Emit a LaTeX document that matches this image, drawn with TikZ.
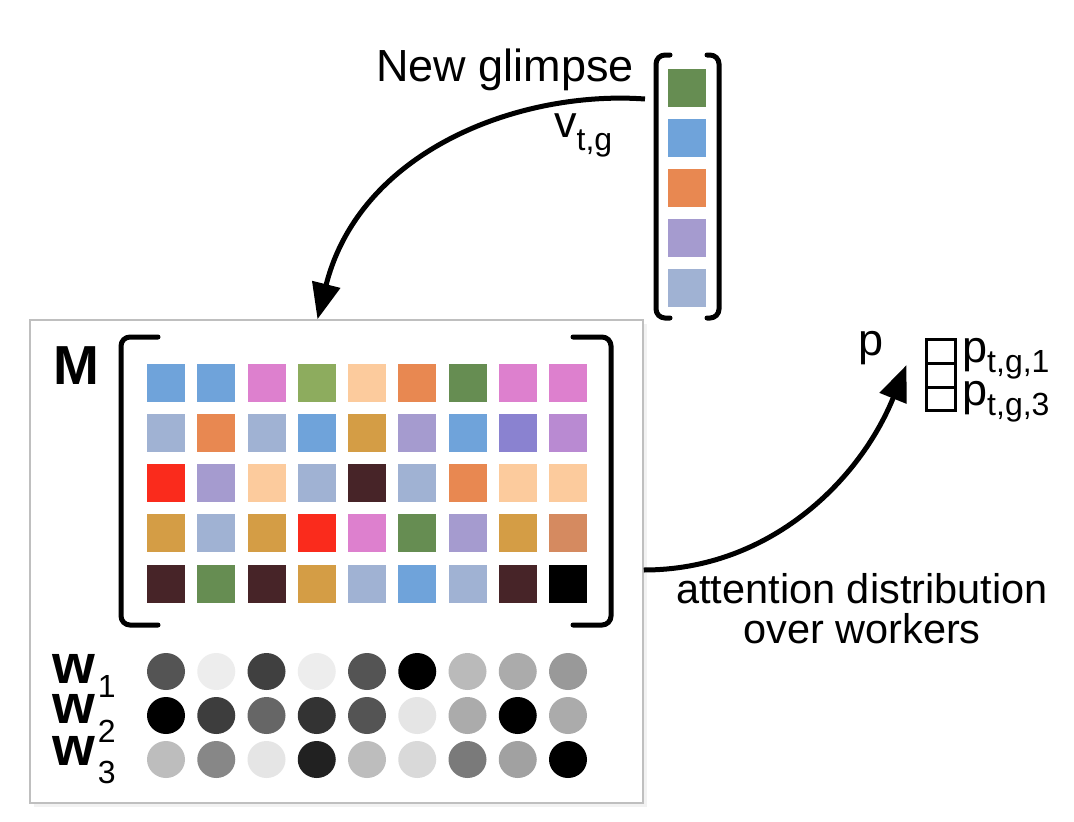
\documentclass[tikz,border=0pt]{standalone}
\usepackage{fontspec}
\setmainfont{Liberation Sans}
\usetikzlibrary{arrows.meta}

\definecolor{mblue}{HTML}{6FA3DA}
\definecolor{mpink}{HTML}{DD80CE}
\definecolor{mlime}{HTML}{8DAC5E}
\definecolor{mpeach}{HTML}{FCCB9D}
\definecolor{morange}{HTML}{E88851}
\definecolor{mgreen}{HTML}{668D52}
\definecolor{mslate}{HTML}{A0B2D3}
\definecolor{mmustard}{HTML}{D49D45}
\definecolor{mpurple}{HTML}{A59BCF}
\definecolor{mviolet}{HTML}{8A82D0}
\definecolor{mlilac}{HTML}{B98AD2}
\definecolor{mred}{HTML}{FA2B1C}
\definecolor{mbrown}{HTML}{472428}
\definecolor{mclay}{HTML}{D58A60}

\newcommand\labelstyle{\fontsize{45}{45}\selectfont}
\newcommand\lowstyle{\fontsize{32}{32}\selectfont}
\newcommand\boldlabelstyle{\fontsize{55}{55}\selectfont\bfseries}
\newcommand\lowtext[2]{\raisebox{#1}{\lowstyle #2}}
\newcommand\cellsize{38}
\newcommand\cellstep{50.25}
\newcommand\startrow[1]{\pgfmathparse{147}\let\x\pgfmathresult\def\rowy{#1}}
\newcommand\memcell[1]{
  \fill[#1] (\x, \rowy) rectangle ++ (\cellsize, \cellsize) ;
  \pgfmathparse{\x + \cellstep}\let\x\pgfmathresult
}
\newcommand\workerdot[1]{
  \fill[black!#1] (\x + 19, \rowy) ellipse [x radius=19, y radius=18.5] ;
  \pgfmathparse{\x + \cellstep}\let\x\pgfmathresult
}
\newcommand\startglimpse{\pgfmathparse{69}\let\y\pgfmathresult}
\newcommand\glimpsecell[1]{
  \fill[#1] (668, \y) rectangle ++ (\cellsize, \cellsize) ;
  \pgfmathparse{\y + 50}\let\y\pgfmathresult
}

\begin{document}
\begin{tikzpicture}[x=1pt, y=-1pt,
    bracket/.style={line width=5, rounded corners=9, line cap=round},
    bend arrow/.style={line width=5, -{Triangle[length=36pt, width=28pt]}}]
    \useasboundingbox (0,0) rectangle (1074,822) ;
    % memory panel
    \fill[black!5] (34,324) rectangle (647,807) ;
    \node (memory) [draw=black!25, line width=1.5, fill=white, minimum width=613, minimum height=483, inner sep=0] at (336.5,561.5) {} ;
    % new glimpse
    \draw (670,55)[bracket] -- (656,55) -- (656,318) -- (670,318) ;
    \draw (707,55)[bracket] -- (719,55) -- (719,318) -- (707,318) ;
    \startglimpse
    \glimpsecell{mgreen}
    \glimpsecell{mblue}
    \glimpsecell{morange}
    \glimpsecell{mpurple}
    \glimpsecell{mslate}
    \node (newglimpse) [anchor=base west, inner sep=0] at (376,81) {\labelstyle New glimpse} ;
    \node (vtg) [anchor=base west, inner sep=0] at (554,137) {\labelstyle v\lowtext{-13pt}{t,g}} ;
    \coordinate (glimpse) at (645,99) ;
    \draw[bend arrow] (glimpse) .. controls (520,90) and (360,150) .. ([xshift=-19]memory.north) ;
    % memory matrix
    \draw (158,337)[bracket] -- (121,337) -- (121,625) -- (158,625) ;
    \draw (573,337)[bracket] -- (611,337) -- (611,625) -- (573,625) ;
    \node (mlabel) [anchor=base west, inner sep=0] at (53,384) {\boldlabelstyle M} ;
    \startrow{363.5}
    \memcell{mblue} \memcell{mblue} \memcell{mpink} \memcell{mlime} \memcell{mpeach}
    \memcell{morange} \memcell{mgreen} \memcell{mpink} \memcell{mpink}
    \startrow{413.75}
    \memcell{mslate} \memcell{morange} \memcell{mslate} \memcell{mblue} \memcell{mmustard}
    \memcell{mpurple} \memcell{mblue} \memcell{mviolet} \memcell{mlilac}
    \startrow{464}
    \memcell{mred} \memcell{mpurple} \memcell{mpeach} \memcell{mslate} \memcell{mbrown}
    \memcell{mslate} \memcell{morange} \memcell{mpeach} \memcell{mpeach}
    \startrow{514.25}
    \memcell{mmustard} \memcell{mslate} \memcell{mmustard} \memcell{mred} \memcell{mpink}
    \memcell{mgreen} \memcell{mpurple} \memcell{mmustard} \memcell{mclay}
    \startrow{564.5}
    \memcell{mbrown} \memcell{mgreen} \memcell{mbrown} \memcell{mmustard} \memcell{mslate}
    \memcell{mblue} \memcell{mslate} \memcell{mbrown} \memcell{black}
    % workers
    \node (wone) [anchor=base west, inner sep=0] at (52,683) {\boldlabelstyle w\hspace{3pt}\lowtext{-14pt}{\mdseries 1}} ;
    \node (wtwo) [anchor=base west, inner sep=0] at (52,723) {\boldlabelstyle w\hspace{3pt}\lowtext{-19pt}{\mdseries 2}} ;
    \node (wthree) [anchor=base west, inner sep=0] at (52,765) {\boldlabelstyle w\hspace{3pt}\lowtext{-18pt}{\mdseries 3}} ;
    \startrow{671.5}
    \workerdot{67} \workerdot{7} \workerdot{75} \workerdot{7} \workerdot{67}
    \workerdot{100} \workerdot{27} \workerdot{33} \workerdot{40}
    \startrow{715.5}
    \workerdot{100} \workerdot{76} \workerdot{60} \workerdot{80} \workerdot{67}
    \workerdot{10} \workerdot{33} \workerdot{100} \workerdot{33}
    \startrow{759.5}
    \workerdot{26} \workerdot{47} \workerdot{10} \workerdot{87} \workerdot{26}
    \workerdot{15} \workerdot{52} \workerdot{37} \workerdot{100}
    % attention distribution
    \node (pvec) [draw, line width=3, minimum width=29, minimum height=71, inner sep=0] at (941,375) {} ;
    \draw[line width=3] (925,363) -- (957,363) ;
    \draw[line width=3] (925,387) -- (957,387) ;
    \node (plabel) [anchor=base west, inner sep=0] at (858,355) {\labelstyle p} ;
    \node (ptgone) [anchor=base west, inner sep=0] at (962,362) {\labelstyle p\lowtext{-10pt}{t,g,1}} ;
    \node (ptgthree) [anchor=base west, inner sep=0] at (962,405) {\labelstyle p\lowtext{-10pt}{t,g,3}} ;
    \coordinate (memout) at ([yshift=-8.5]memory.east) ;
    \draw[bend arrow] (memout) .. controls (770,570) and (860,480) .. ([xshift=-18.5, yshift=10]pvec.west) ;
    \node (attn) [anchor=base, inner sep=0] at (862,603) {\fontsize{41.5}{41.5}\selectfont attention distribution} ;
    \node (overworkers) [anchor=base, inner sep=0] at (862,643) {\fontsize{41.5}{41.5}\selectfont over workers} ;
\end{tikzpicture}
\end{document}
